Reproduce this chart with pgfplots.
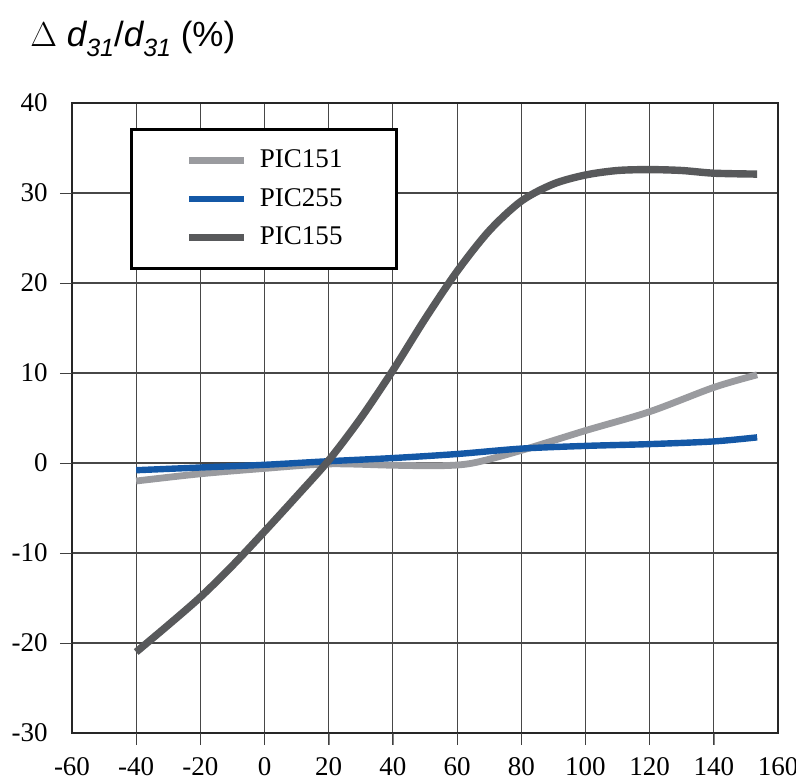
\documentclass[border=0pt]{standalone}
\usepackage{pgfplots}
\pgfplotsset{compat=1.18}
\usepackage{fontspec}
\setmainfont{Liberation Serif}
\setsansfont{Liberation Sans}
\definecolor{cLight}{HTML}{9A9B9F}
\definecolor{cBlue}{HTML}{1458A6}
\definecolor{cDark}{HTML}{58595B}
\newcommand{\dsub}{{\itshape d}\raisebox{-0.28em}{\fontsize{12.5}{13}\selectfont\itshape 31}}
\begin{document}
\begin{tikzpicture}
\useasboundingbox (-36pt,-24.5pt) rectangle (362pt,366.5pt);
\begin{axis}[
  scale only axis, width=353pt, height=315pt,
  xmin=-60, xmax=160, ymin=-30, ymax=40,
  xtick={-40,-20,...,140},
  xticklabels={-40,-20,0,20,40,60,80,100,120,140},
  ytick={-20,-10,...,30},
  yticklabels={-20,-10,0,10,20,30},
  major tick length=6pt,
  tick align=outside, tick pos=left,
  grid=major,
  major grid style={draw=black!72, line width=0.55pt},
  axis line style={black!85, line width=0.6pt},
  ticklabel style={font=\fontsize{13.5}{14}\selectfont, inner sep=1pt},
  xticklabel style={yshift=-5pt},
  yticklabel style={xshift=-5pt},
  extra description/.code={
    \node[anchor=north, inner sep=1pt, font=\fontsize{13.5}{14}\selectfont, yshift=-11pt] at (0,0) {-60};
    \node[anchor=north, inner sep=1pt, font=\fontsize{13.5}{14}\selectfont, yshift=-11pt] at (1,0) {160};
    \node[anchor=east, inner sep=1pt, font=\fontsize{13.5}{14}\selectfont, xshift=-11pt] at (0,0) {-30};
    \node[anchor=east, inner sep=1pt, font=\fontsize{13.5}{14}\selectfont, xshift=-11pt] at (0,1) {40};
    \foreach \t in {-40,-20,...,140} {\draw[black!75, line width=0.5pt] ({(\t+60)/220},0) -- ++(0pt,-6pt);}
    \foreach \t in {-20,-10,...,30} {\draw[black!75, line width=0.5pt] (0,{(\t+30)/70}) -- ++(-6pt,0pt);}
  },
  legend style={at={(axis cs:-41.9,37.2)}, anchor=north west, draw=black, line width=1.5pt,
    inner xsep=27pt, inner ysep=9pt, font=\fontsize{13.5}{14}\selectfont,
    nodes={inner sep=0pt, text height=10pt, text depth=3pt}, row sep=6.25pt,
    /tikz/every odd column/.append style={column sep=6pt}},
  legend cell align=left,
  legend image code/.code={\draw[#1] (0pt,0pt) -- (27.5pt,0pt);},
]
\addplot[cLight, line width=3.4pt, smooth] coordinates {
(-40,-2.0) (-20,-1.2) (0,-0.6) (20,-0.1) (40,-0.25) (55,-0.3) (65,0.0) (80,1.4) (100,3.6) (120,5.7) (140,8.4) (153.5,9.8)};
\addlegendentry{PIC151}
\addplot[cBlue, line width=3.2pt, smooth] coordinates {
(-40,-0.8) (-20,-0.5) (0,-0.2) (20,0.2) (40,0.55) (60,1.0) (80,1.6) (100,1.9) (120,2.1) (140,2.4) (153.5,2.85)};
\addlegendentry{PIC255}
\addplot[cDark, line width=3.7pt, smooth] coordinates {
(-40,-21.0) (-30,-18.0) (-20,-14.9) (-10,-11.4) (0,-7.6) (10,-3.7) (20,0.3) (30,5.0) (40,10.3) (50,16.0) (60,21.3) (70,25.8) (80,29.1) (90,31.0) (100,32.0) (110,32.5) (120,32.6) (130,32.5) (140,32.2) (153.5,32.1)};
\addlegendentry{PIC155}
\end{axis}
\node[anchor=base west, inner sep=0pt, font=\sffamily\fontsize{17.5}{18}\selectfont] at (-21pt,343pt) {$\Delta$\ \dsub/\dsub\ (\%)};
\end{tikzpicture}
\end{document}
